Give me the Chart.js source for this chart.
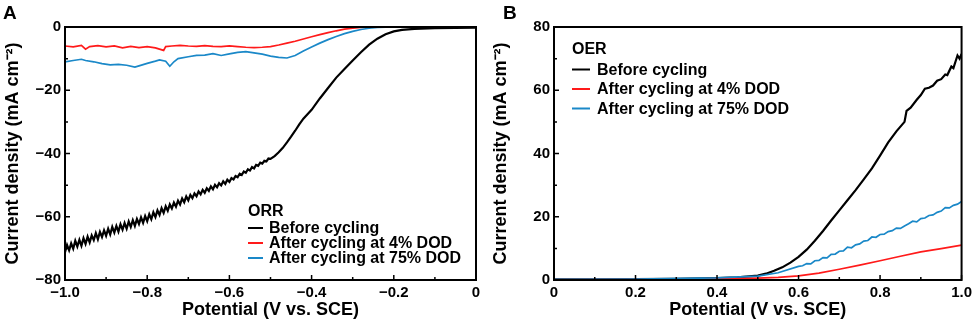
<!DOCTYPE html>
<html>
<head>
<meta charset="UTF-8">
<title>ORR / OER polarization</title>
<style type="text/css">
body { margin: 0; background: #fff; }
#wrap { position: relative; width: 976px; height: 322px; }
.panel { position: absolute; top: 0; width: 488px; height: 322px; }
</style>
<script src="https://cdn.jsdelivr.net/npm/chart.js@4.4.0/dist/chart.umd.min.js"></script>
</head>
<body>
<div id="wrap">
	<div class="panel" style="left:0"><canvas id="chartA" width="488" height="322"></canvas></div>
	<div class="panel" style="left:488px"><canvas id="chartB" width="488" height="322"></canvas></div>
</div>
<script type="text/javascript">
	// legend labels
	const seriesNames = ['Before cycling', 'After cycling at 4% DOD', 'After cycling at 75% DOD'];
	const seriesColors = ['#000000', '#ff1a1a', '#1a88c8'];

	// tick labels
	const xTicksA = ['−1.0', '−0.8', '−0.6', '−0.4', '−0.2', '0'];
	const yTicksA = ['−80', '−60', '−40', '−20', '0'];
	const xTicksB = ['0', '0.2', '0.4', '0.6', '0.8', '1.0'];
	const yTicksB = ['0', '20', '40', '60', '80'];

	// A: ORR, potential (V) / current density (noisy part every 5 mV)
	const orrBeforeX = [-1.000,-0.995,-0.990,-0.985,-0.980,-0.975,-0.970,-0.965,-0.960,-0.955,-0.950,-0.945,-0.940,-0.935,-0.930,-0.925,-0.920,-0.915,-0.910,-0.905,
		-0.900,-0.895,-0.890,-0.885,-0.880,-0.875,-0.870,-0.865,-0.860,-0.855,-0.850,-0.845,-0.840,-0.835,-0.830,-0.825,-0.820,-0.815,-0.810,-0.805,
		-0.800,-0.795,-0.790,-0.785,-0.780,-0.775,-0.770,-0.765,-0.760,-0.755,-0.750,-0.745,-0.740,-0.735,-0.730,-0.725,-0.720,-0.715,-0.710,-0.705,
		-0.700,-0.695,-0.690,-0.685,-0.680,-0.675,-0.670,-0.665,-0.660,-0.655,-0.650,-0.645,-0.640,-0.635,-0.630,-0.625,-0.620,-0.615,-0.610,-0.605,
		-0.600,-0.595,-0.590,-0.585,-0.580,-0.575,-0.570,-0.565,-0.560,-0.555,-0.550,-0.545,-0.540,-0.535,-0.530,-0.525,-0.520,-0.515,-0.510,-0.505,
		-0.500,-0.49,-0.48,-0.47,-0.46,-0.45,-0.44,-0.43,-0.42,-0.41,-0.40,-0.38,-0.36,-0.34,-0.32,-0.30,-0.28,-0.26,-0.24,-0.22,-0.20,-0.18,-0.15,-0.10,-0.05,0];
	const orrBeforeY = [-71.2,-68.9,-70.6,-68.4,-70.1,-67.6,-69.4,-67.3,-69.2,-66.8,-68.6,-66.3,-68.1,-65.9,-67.4,-65.2,-67.1,-64.8,-66.4,-64.3,
		-66.0,-63.8,-65.6,-63.2,-65.0,-62.9,-64.7,-62.4,-64.1,-62.0,-63.8,-61.5,-63.2,-61.1,-62.9,-60.7,-62.3,-60.2,-61.9,-59.8,
		-61.4,-59.2,-60.8,-58.6,-60.1,-58.0,-59.4,-57.3,-58.8,-56.7,-58.1,-56.1,-57.4,-55.5,-56.8,-54.9,-56.1,-54.2,-55.4,-53.6,
		-54.8,-53.1,-54.1,-52.6,-53.5,-52.0,-52.9,-51.5,-52.4,-51.0,-51.8,-50.4,-51.3,-49.9,-50.7,-49.4,-50.1,-48.8,-49.6,-48.3,
		-49.0,-47.8,-48.2,-47.1,-47.5,-46.4,-46.8,-45.7,-46.1,-45.0,-45.4,-44.3,-44.7,-43.6,-43.9,-42.9,-43.2,-42.3,-42.5,-41.6,
		-41.7,-40.8,-39.6,-38.2,-36.5,-34.7,-32.8,-30.8,-29.0,-27.6,-26.2,-22.6,-19.3,-16.0,-13.3,-10.6,-8.0,-5.6,-3.7,-2.3,-1.4,-0.9,-0.6,-0.4,-0.3,-0.2];
	const orr4X = [-1.00,-0.98,-0.96,-0.95,-0.94,-0.92,-0.90,-0.88,-0.86,-0.84,-0.82,-0.80,-0.78,-0.76,-0.755,-0.74,-0.72,-0.70,-0.68,-0.66,-0.64,-0.62,-0.60,-0.58,-0.56,-0.54,-0.52,-0.50,-0.48,-0.46,-0.44,-0.42,-0.40,-0.38,-0.36,-0.34,-0.32,-0.30,-0.28,-0.26,-0.24,0];
	const orr4Y = [-6.0,-6.3,-5.8,-7.0,-6.2,-5.9,-6.3,-6.0,-6.6,-6.1,-6.5,-6.2,-6.6,-7.4,-6.2,-6.0,-5.8,-6.0,-6.1,-5.9,-6.1,-6.2,-6.0,-6.2,-6.4,-6.5,-6.4,-6.2,-5.7,-5.1,-4.5,-3.8,-3.1,-2.4,-1.8,-1.2,-0.7,-0.4,-0.15,-0.05,0,0];
	const orr75X = [-1.00,-0.98,-0.96,-0.95,-0.93,-0.91,-0.89,-0.87,-0.85,-0.83,-0.82,-0.80,-0.78,-0.77,-0.755,-0.745,-0.735,-0.725,-0.70,-0.68,-0.66,-0.64,-0.62,-0.60,-0.58,-0.56,-0.54,-0.52,-0.50,-0.48,-0.46,-0.44,-0.42,-0.40,-0.38,-0.36,-0.34,-0.32,-0.30,-0.28,-0.26,-0.24,-0.22,-0.20,0];
	const orr75Y = [-11.0,-10.6,-10.2,-10.6,-11.0,-11.6,-12.0,-11.8,-12.1,-12.7,-12.3,-11.5,-10.8,-10.4,-10.8,-12.4,-11.0,-10.0,-9.4,-9.0,-8.9,-8.4,-9.0,-8.5,-8.0,-7.8,-8.2,-8.6,-9.2,-9.6,-9.8,-9.0,-7.6,-6.3,-5.1,-4.0,-3.0,-2.1,-1.4,-0.8,-0.4,-0.15,-0.05,0,0];

	// B: OER
	const oerBeforeX = [0,0.1,0.2,0.3,0.4,0.45,0.5,0.52,0.54,0.56,0.58,0.60,0.62,0.64,0.66,0.68,0.70,0.72,0.74,0.76,0.78,0.80,0.82,0.84,0.86,0.865,0.875,0.89,0.90,0.91,0.92,0.93,0.94,0.95,0.96,0.965,0.975,0.98,0.985,0.99,0.995,1.0];
	const oerBeforeY = [0.2,0.2,0.3,0.4,0.6,0.8,1.4,2.0,2.9,4.0,5.5,7.3,9.6,12.4,15.5,18.8,22.0,25.2,28.4,31.8,35.3,39.3,43.5,47.0,50.0,53.5,54.5,57.0,58.5,60.5,60.8,61.5,63.0,63.5,65.0,64.8,67.5,67.0,69.0,71.0,70.0,71.5];
	const oer4X = [0,0.3,0.5,0.55,0.6,0.65,0.7,0.75,0.8,0.85,0.9,0.95,1.0];
	const oer4Y = [0.1,0.3,0.6,0.8,1.3,2.2,3.4,4.7,6.1,7.5,8.9,9.9,11.0];
	const oer75X = [0,0.2,0.4,0.5,0.55,0.60,0.61,0.62,0.63,0.64,0.65,0.66,0.67,0.68,0.69,0.70,0.71,0.72,0.73,0.74,0.75,0.76,0.77,0.78,0.79,0.80,
		0.81,0.82,0.83,0.84,0.85,0.86,0.87,0.88,0.89,0.90,0.91,0.92,0.93,0.94,0.95,0.96,0.97,0.98,0.99,1.0];
	const oer75Y = [0.2,0.3,0.7,1.2,2.3,4.3,4.5,5.2,5.1,6.1,6.2,7.1,7.0,8.1,8.2,9.1,9.2,10.4,10.2,11.1,11.4,12.3,12.5,13.6,13.5,14.4,
		14.5,15.3,15.6,16.4,16.3,17.1,17.8,18.6,18.4,19.4,19.6,20.4,20.6,21.4,21.8,22.9,22.8,23.6,24.0,24.8];

	function pts(xs, ys) {
		return xs.map(function(x, i) { return {x: x, y: ys[i]}; });
	}

	const FONT = "'Liberation Sans', Arial, sans-serif";

	// inward ticks, box frame, panel letter and legend
	const framePlugin = {
		id: 'frame',
		afterDraw: function(chart, args, opts) {
			const ctx = chart.ctx;
			const a = chart.chartArea;
			const xs = chart.scales.x, ys = chart.scales.y;
			ctx.save();
			ctx.strokeStyle = '#000';
			ctx.lineWidth = 1.5;
			ctx.beginPath();
			for (let i = 0; i <= 10; i++) {
				const v = xs.min + (xs.max - xs.min) * i / 10;
				const px = xs.getPixelForValue(v);
				const len = (i % 2 === 0) ? 5 : 3;
				ctx.moveTo(px, a.bottom); ctx.lineTo(px, a.bottom - len);
			}
			for (let i = 0; i <= 8; i++) {
				const v = ys.min + (ys.max - ys.min) * i / 8;
				const py = ys.getPixelForValue(v);
				const len = (i % 2 === 0) ? 5 : 3;
				ctx.moveTo(a.left, py); ctx.lineTo(a.left + len, py);
			}
			ctx.stroke();
			ctx.lineWidth = 2;
			ctx.strokeRect(a.left, a.top, a.right - a.left, a.bottom - a.top);

			ctx.fillStyle = '#000';
			ctx.font = 'bold 19px ' + FONT;
			ctx.textBaseline = 'alphabetic';
			ctx.textAlign = 'left';
			ctx.fillText(opts.letter, opts.letterX, 19);

			ctx.font = 'bold 16px ' + FONT;
			ctx.textBaseline = 'middle';
			ctx.fillText(opts.title, opts.lx, opts.ly);
			for (let i = 0; i < seriesNames.length; i++) {
				const y = opts.ly + opts.firstGap + i * opts.gap;
				ctx.strokeStyle = seriesColors[i];
				ctx.lineWidth = 2;
				ctx.beginPath();
				ctx.moveTo(opts.lx, y); ctx.lineTo(opts.lx + opts.sample, y);
				ctx.stroke();
				ctx.fillText(seriesNames[i], opts.tx, y + 1);
			}
			ctx.restore();
		}
	};

	function makeChart(id, sets, xr, yr, xLabels, yLabels, axisW, padRight, frame) {
		const ds = sets.map(function(s, i) {
			return {
				label: seriesNames[i],
				data: s,
				borderColor: seriesColors[i],
				borderWidth: i === 0 ? 2.2 : 1.7,
				pointRadius: 0,
				tension: 0
			};
		});
		// draw black on top
		ds.reverse();
		return new Chart(document.getElementById(id), {
			type: 'line',
			data: { datasets: ds },
			options: {
				responsive: false,
				devicePixelRatio: 1,
				animation: false,
				layout: { padding: { top: 27, right: padRight, left: 0, bottom: 0 } },
				plugins: { legend: { display: false }, tooltip: { enabled: false }, frame: frame },
				scales: {
					x: {
						type: 'linear', min: xr[0], max: xr[1],
						afterBuildTicks: function(s) {
							s.ticks = xLabels.map(function(t, i) { return { value: xr[0] + (xr[1] - xr[0]) * i / (xLabels.length - 1) }; });
						},
						afterFit: function(s) { s.height = 42; },
						grid: { display: false, drawTicks: false },
						border: { display: false },
						ticks: {
							color: '#000', padding: 4, maxRotation: 0,
							font: { family: FONT, size: 15, weight: 'bold' },
							callback: function(v, i) { return xLabels[i]; }
						},
						title: {
							display: true, text: 'Potential (V vs. SCE)', color: '#000',
							font: { family: FONT, size: 18, weight: 'bold' },
							padding: { top: 0, bottom: 1 }
						}
					},
					y: {
						type: 'linear', min: yr[0], max: yr[1],
						afterBuildTicks: function(s) {
							s.ticks = yLabels.map(function(t, i) { return { value: yr[0] + (yr[1] - yr[0]) * i / (yLabels.length - 1) }; });
						},
						afterFit: function(s) { s.width = axisW; },
						grid: { display: false, drawTicks: false },
						border: { display: false },
						ticks: {
							color: '#000', padding: 4,
							font: { family: FONT, size: 15, weight: 'bold' },
							callback: function(v, i) { return yLabels[i]; }
						},
						title: {
							display: true, text: 'Current density (mA cm⁻²)', color: '#000',
							font: { family: FONT, size: 18, weight: 'bold' },
							padding: { top: 2, bottom: 0 }
						}
					}
				}
			},
			plugins: [framePlugin]
		});
	}

	makeChart('chartA',
		[pts(orrBeforeX, orrBeforeY), pts(orr4X, orr4Y), pts(orr75X, orr75Y)],
		[-1, 0], [-80, 0], xTicksA, yTicksA, 65, 12,
		{ letter: 'A', letterX: 3, title: 'ORR', lx: 248, ly: 212, firstGap: 16, gap: 15, sample: 15, tx: 269 });

	makeChart('chartB',
		[pts(oerBeforeX, oerBeforeY), pts(oer4X, oer4Y), pts(oer75X, oer75Y)],
		[0, 1], [0, 80], xTicksB, yTicksB, 66, 11,
		{ letter: 'B', letterX: 15, title: 'OER', lx: 84, ly: 50, firstGap: 19.5, gap: 19.5, sample: 18, tx: 109 });
</script>
</body>
</html>
